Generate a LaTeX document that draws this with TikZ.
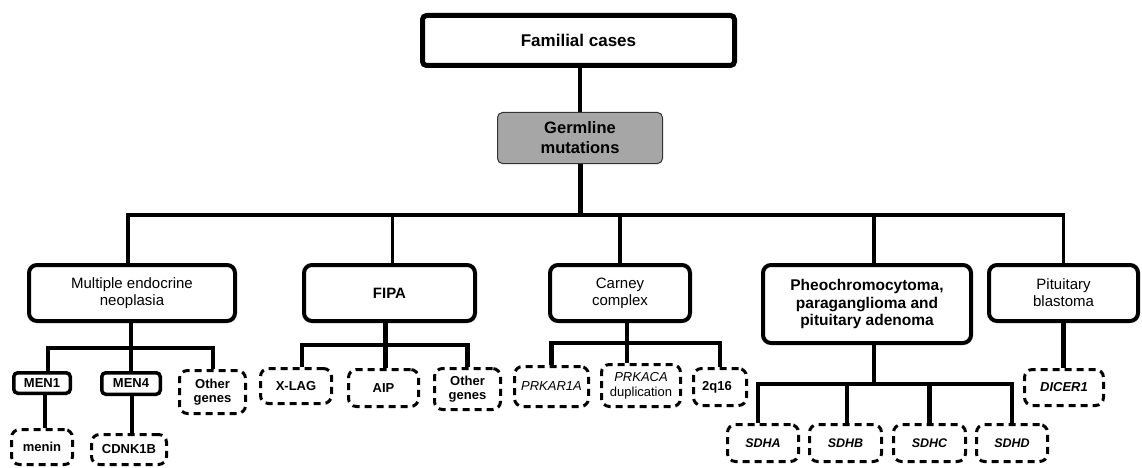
\documentclass[tikz,border=0pt]{standalone}
\usepackage{fontspec}
\setmainfont{Liberation Sans}
\definecolor{germgray}{RGB}{166,166,166}
\begin{document}
\begin{tikzpicture}[x=1pt,y=-1pt,
  famstyle/.style={draw, line width=5pt, rounded corners=4pt, inner sep=0pt, align=center, font=\fontsize{17}{20}\selectfont\bfseries},
  germstyle/.style={draw=black!80, fill=germgray, line width=1pt, rounded corners=5pt, inner sep=0pt, align=center, font=\fontsize{16.5}{20}\selectfont\bfseries},
  lvtwo/.style={draw, line width=4pt, rounded corners=8pt, inner sep=0pt, align=center, font=\fontsize{15}{17}\selectfont},
  solidsm/.style={draw, line width=3.5pt, rounded corners=4pt, inner sep=0pt, align=center, font=\fontsize{13}{15}\selectfont\bfseries},
  dashbox/.style={draw, line width=3pt, dash pattern=on 7pt off 5pt, rounded corners=8pt, inner sep=0pt, align=center, font=\fontsize{13}{15}\selectfont},
  connA/.style={line width=3pt},
  connB/.style={line width=4.5pt},
  barline/.style={line width=3.5pt}
]
\useasboundingbox (0,0) rectangle (1142,468);

% top
\node[famstyle, minimum width=312pt, minimum height=50pt] (fam) at (578.5,40.5) {Familial cases};
\node[germstyle, minimum width=165pt, minimum height=51pt] (germ) at (580,138) {Germline\\mutations};

% level 2
\node[lvtwo, minimum width=206pt, minimum height=56pt] (men) at (132,293) {Multiple endocrine\\neoplasia};
\node[lvtwo, minimum width=171pt, minimum height=56pt, font=\fontsize{15}{17}\selectfont\bfseries] (fipa) at (389.5,293) {FIPA};
\node[lvtwo, minimum width=140pt, minimum height=56pt] (carney) at (620,293) {Carney\\complex};
\node[lvtwo, minimum width=208pt, minimum height=78pt, font=\fontsize{15.5}{17.3}\selectfont\bfseries] (pheo) at (867,304) {Pheochromocytoma,\\paraganglioma and\\pituitary adenoma};
\node[lvtwo, minimum width=149pt, minimum height=56pt] (pit) at (1063.5,293) {Pituitary\\blastoma};

% MEN subtree
\node[solidsm, minimum width=56.5pt, minimum height=20.5pt] (men1) at (42,383) {MEN1};
\node[solidsm, minimum width=58.5pt, minimum height=21.5pt] (men4) at (131,383.5) {MEN4};
\node[dashbox, minimum width=66pt, minimum height=43pt, font=\fontsize{13}{14}\selectfont\bfseries] (othg1) at (212.5,392) {Other\\genes};
\node[dashbox, minimum width=61pt, minimum height=35pt, font=\fontsize{13}{15}\selectfont\bfseries] (menin) at (42,447) {menin};
\node[dashbox, minimum width=75pt, minimum height=30pt, font=\fontsize{13}{15}\selectfont\bfseries] (cdnk) at (129,449.5) {CDNK1B};

% FIPA subtree
\node[dashbox, minimum width=71pt, minimum height=35pt, font=\fontsize{13}{15}\selectfont\bfseries] (xlag) at (296,386) {X-LAG};
\node[dashbox, minimum width=70pt, minimum height=37pt, font=\fontsize{13}{15}\selectfont\bfseries] (aip) at (383.5,388) {AIP};
\node[dashbox, minimum width=66pt, minimum height=41pt, font=\fontsize{13}{14}\selectfont\bfseries] (othg2) at (467.5,389) {Other\\genes};

% Carney subtree
\node[dashbox, minimum width=74pt, minimum height=40pt, font=\fontsize{13}{15}\selectfont\itshape] (prkar) at (551.5,386.5) {PRKAR1A};
\node[dashbox, minimum width=79pt, minimum height=42pt, font=\fontsize{13}{15}\selectfont] (prkaca) at (641,385.5) {\textit{PRKACA}\\duplication};
\node[dashbox, minimum width=53pt, minimum height=37pt, font=\fontsize{13}{15}\selectfont\bfseries] (q16) at (720,387) {2q16\hspace*{6pt}};

% Pheo subtree
\node[dashbox, minimum width=71pt, minimum height=37pt, font=\fontsize{12.5}{15}\selectfont\bfseries\itshape] (sdha) at (763,443) {SDHA};
\node[dashbox, minimum width=72pt, minimum height=37pt, font=\fontsize{12.5}{15}\selectfont\bfseries\itshape] (sdhb) at (845.5,443) {SDHB};
\node[dashbox, minimum width=72pt, minimum height=37pt, font=\fontsize{12.5}{15}\selectfont\bfseries\itshape] (sdhc) at (929.5,443) {SDHC};
\node[dashbox, minimum width=71pt, minimum height=37pt, font=\fontsize{12.5}{15}\selectfont\bfseries\itshape] (sdhd) at (1012,443) {SDHD};

% Pituitary blastoma subtree
\node[dashbox, minimum width=79pt, minimum height=36pt, font=\fontsize{13}{15}\selectfont\bfseries\itshape] (dicer) at (1064,387.5) {DICER1};

% coordinates of bars
\coordinate (b) at (580,215);
\coordinate (mb) at (130,348);
\coordinate (fb) at (385,345);
\coordinate (cb) at (627,343);
\coordinate (pb) at (874,384);

% connectors top
\draw[line width=4pt] (germ.north) -- (germ.north |- fam.south);
\draw[line width=5pt] (germ.south) -- (b);
\draw[barline] ([xshift=-4pt]men.north) |- (b) -| (pit.north);
\draw[connA] ([xshift=2.5pt]fipa.north |- b) -- ([xshift=2.5pt]fipa.north);
\draw[connA, line width=3.5pt] (carney.north |- b) -- (carney.north);
\draw[connA, line width=3.5pt] ([xshift=7pt]pheo.north |- b) -- ([xshift=7pt]pheo.north);

% MEN connectors
\draw[connB, line width=4pt] ([xshift=6pt]men1.north) |- (mb) -| (othg1.north);
\draw[connB, line width=4pt] (men4.north |- men.south) -- (men4.north);
\draw[connB, line width=4pt] ([xshift=3pt]men1.south) -- ([xshift=3pt]menin.north);
\draw[connB, line width=4pt] ([xshift=1pt]men4.south) -- ([xshift=1pt]men4.south |- cdnk.north);

% FIPA connectors
\draw[connB] ([xshift=6pt]xlag.north) |- (fb) -| (othg2.north);
\draw[connB] ([xshift=2pt]aip.north |- fipa.south) -- ([xshift=2pt]aip.north);

% Carney connectors
\draw[connB] (prkar.north) |- (cb) -| (q16.north);
\draw[connB] (cb |- carney.south) -- (cb |- prkaca.north);

% Pheo connectors
\draw[connB] (pb |- pheo.south) -- (pb);
\draw[connB] ([xshift=-5pt]sdha.north) |- (pb) -| (sdhd.north);
\draw[connB] ([xshift=1.5pt]sdhb.north |- pb) -- ([xshift=1.5pt]sdhb.north);
\draw[connB] (sdhc.north |- pb) -- (sdhc.north);

% Pituitary connector
\draw[connB] (pit.south) -- (pit.south |- dicer.north);
\end{tikzpicture}
\end{document}
